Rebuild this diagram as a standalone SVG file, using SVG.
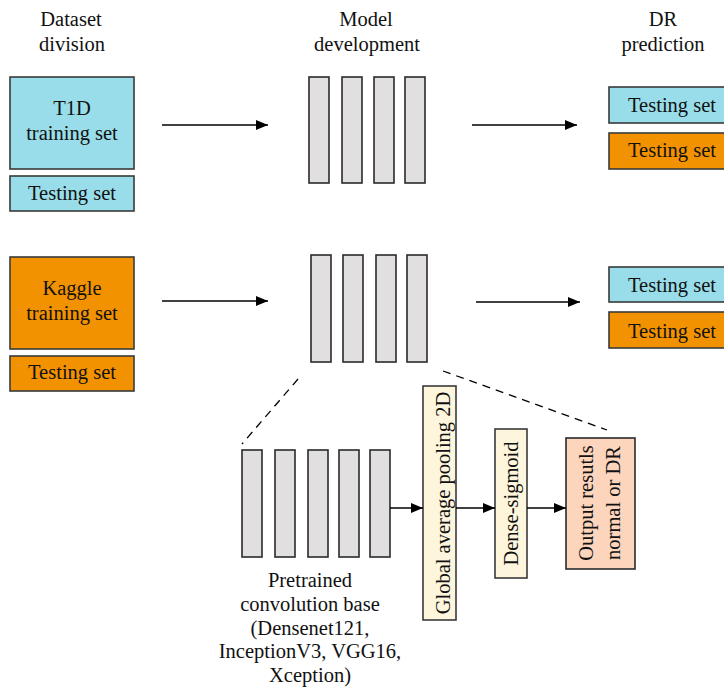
<svg xmlns="http://www.w3.org/2000/svg" width="724" height="695" viewBox="0 0 724 695">
<defs>
<marker id="ah" markerWidth="12" markerHeight="10" refX="12" refY="5" orient="auto" markerUnits="userSpaceOnUse">
<path d="M0,0 L12,5 L0,10 Z" fill="#000"/>
</marker>
<style>
text{font-family:"Liberation Serif","Times New Roman",serif;font-size:20.5px;fill:#111;text-anchor:middle}
.box{stroke:#3a3a3a;stroke-width:1.6}
.cy{fill:#98dde9}
.or{fill:#f39200}
.bar{fill:#e1dfe0;stroke:#2a2a2a;stroke-width:1.6}
.yl{fill:#fef6dc;stroke:#3a3a3a;stroke-width:1.6}
.pe{fill:#fdd5bc;stroke:#2a2a2a;stroke-width:1.6}
.ar{stroke:#000;stroke-width:1.6;fill:none;marker-end:url(#ah)}
.ds{stroke:#000;stroke-width:1.3;fill:none;stroke-dasharray:8,6}
</style>
</defs>
<rect width="724" height="695" fill="#fff"/>
<g id="headings">
<text x="71" y="26">Dataset</text>
<text x="72" y="51">division</text>
<text x="366" y="26">Model</text>
<text x="367" y="51">development</text>
<text x="663" y="26">DR</text>
<text x="663" y="51">prediction</text>
</g>
<g id="t1d-train"><rect class="box cy" x="10" y="77" width="124" height="92"/><text x="72" y="115">T1D</text><text x="72" y="140">training set</text></g>
<g id="t1d-test"><rect class="box cy" x="10" y="176" width="124" height="35"/><text x="72" y="200">Testing set</text></g>
<g id="kaggle-train"><rect class="box or" x="10" y="257" width="124" height="92"/><text x="72" y="295">Kaggle</text><text x="72" y="320">training set</text></g>
<g id="kaggle-test"><rect class="box or" x="10" y="356" width="124" height="35"/><text x="72" y="379">Testing set</text></g>
<g id="model1">
<rect class="bar" x="309" y="77" width="20" height="106"/>
<rect class="bar" x="342" y="77" width="20" height="106"/>
<rect class="bar" x="374" y="77" width="20" height="106"/>
<rect class="bar" x="405" y="77" width="20" height="106"/>
</g>
<g id="model2">
<rect class="bar" x="311" y="255" width="20" height="107"/>
<rect class="bar" x="343" y="255" width="20" height="107"/>
<rect class="bar" x="376" y="255" width="20" height="107"/>
<rect class="bar" x="407" y="255" width="20" height="107"/>
</g>
<g id="pred1-cy"><rect class="box cy" x="609" y="87" width="125" height="36"/><text x="672" y="112">Testing set</text></g>
<g id="pred1-or"><rect class="box or" x="609" y="133" width="125" height="36"/><text x="672" y="157">Testing set</text></g>
<g id="pred2-cy"><rect class="box cy" x="609" y="267" width="125" height="35"/><text x="672" y="292">Testing set</text></g>
<g id="pred2-or"><rect class="box or" x="609" y="312" width="125" height="36"/><text x="672" y="338">Testing set</text></g>
<g id="conv-base">
<rect class="bar" x="242" y="450" width="20" height="107"/>
<rect class="bar" x="275" y="450" width="20" height="107"/>
<rect class="bar" x="308" y="450" width="20" height="107"/>
<rect class="bar" x="339" y="450" width="20" height="107"/>
<rect class="bar" x="370" y="450" width="20" height="107"/>
<text x="310" y="587">Pretrained</text>
<text x="310" y="611">convolution base</text>
<text x="310" y="635">(Densenet121,</text>
<text x="310" y="658">InceptionV3, VGG16,</text>
<text x="310" y="682">Xception)</text>
</g>
<g id="gap"><rect class="yl" x="423" y="386" width="33" height="234"/><text transform="translate(450,503) rotate(-90)">Global average pooling 2D</text></g>
<g id="dense"><rect class="yl" x="495" y="429" width="32" height="149"/><text transform="translate(518,503.5) rotate(-90)">Dense-sigmoid</text></g>
<g id="output"><rect class="pe" x="566" y="438" width="69" height="131"/><text transform="translate(593,503) rotate(-90)">Output resutls</text><text transform="translate(620,503) rotate(-90)">normal or DR</text></g>
<g id="connectors">
<line class="ar" x1="162" y1="125" x2="268" y2="125"/>
<line class="ar" x1="162" y1="301" x2="268" y2="301"/>
<line class="ar" x1="472" y1="125" x2="577" y2="125"/>
<line class="ar" x1="476" y1="302" x2="580" y2="302"/>
<line class="ar" x1="390" y1="508" x2="423" y2="508"/>
<line class="ar" x1="456" y1="508" x2="495" y2="508"/>
<line class="ar" x1="527" y1="508" x2="566" y2="508"/>
<line class="ds" x1="298" y1="379" x2="242" y2="444"/>
<line class="ds" x1="443" y1="371" x2="607" y2="430"/>
</g>
</svg>
